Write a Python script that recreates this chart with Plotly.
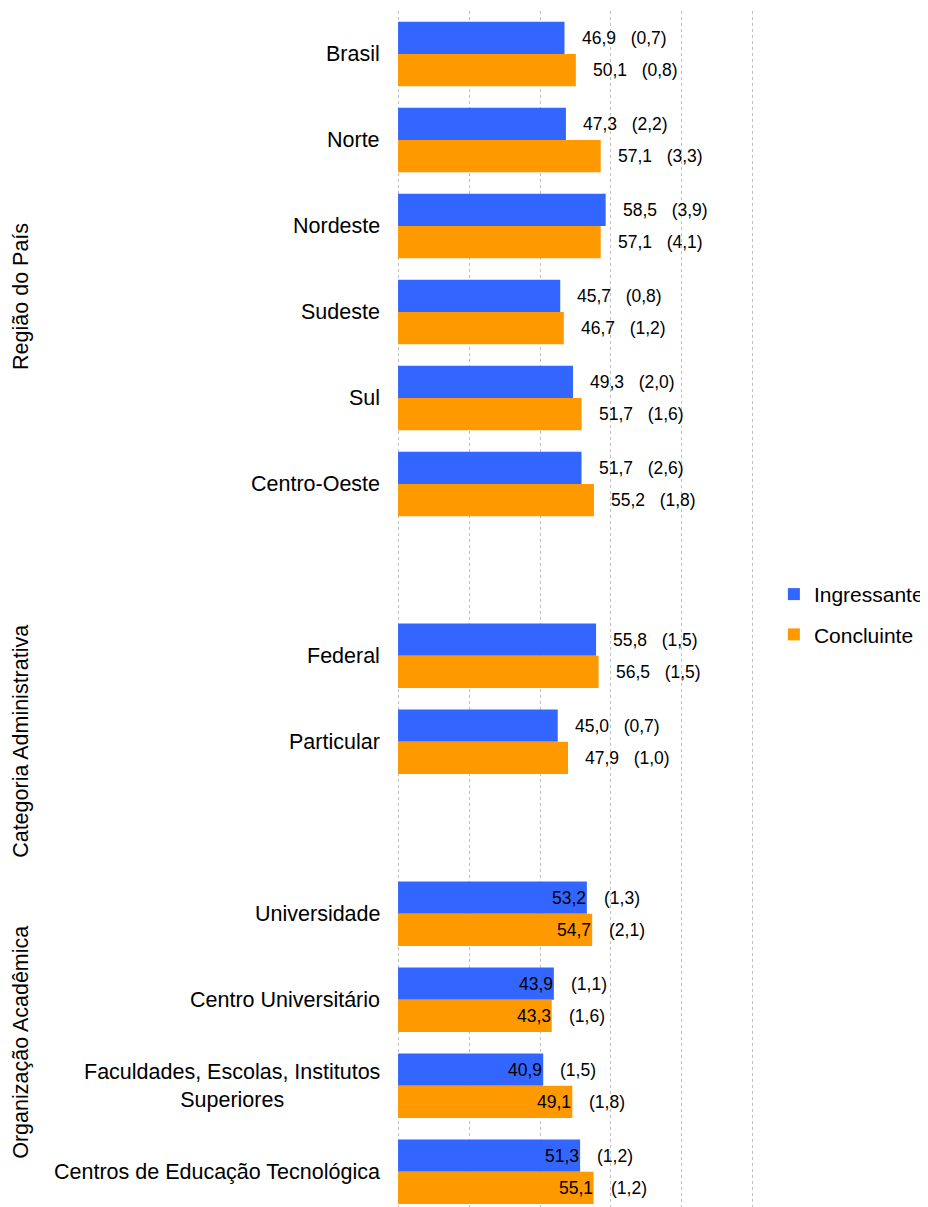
import plotly.graph_objects as go

# ---------------- data ----------------
group_titles = ["Região do País", "Categoria Administrativa", "Organização Acadêmica"]

regiao_cats = ["Brasil", "Norte", "Nordeste", "Sudeste", "Sul", "Centro-Oeste"]
regiao_ing = [46.9, 47.3, 58.5, 45.7, 49.3, 51.7]
regiao_ing_se = [0.7, 2.2, 3.9, 0.8, 2.0, 2.6]
regiao_con = [50.1, 57.1, 57.1, 46.7, 51.7, 55.2]
regiao_con_se = [0.8, 3.3, 4.1, 1.2, 1.6, 1.8]

categoria_cats = ["Federal", "Particular"]
categoria_ing = [55.8, 45.0]
categoria_ing_se = [1.5, 0.7]
categoria_con = [56.5, 47.9]
categoria_con_se = [1.5, 1.0]

org_cats = ["Universidade", "Centro Universitário",
            "Faculdades, Escolas, Institutos<br>Superiores",
            "Centros de Educação Tecnológica"]
org_ing = [53.2, 43.9, 40.9, 51.3]
org_ing_se = [1.3, 1.1, 1.5, 1.2]
org_con = [54.7, 43.3, 49.1, 55.1]
org_con_se = [2.1, 1.6, 1.8, 1.2]

series_names = ["Ingressante", "Concluinte"]
colors = ["#3366FF", "#FF9900"]

groups = [
    (regiao_cats, regiao_ing, regiao_ing_se, regiao_con, regiao_con_se, "outside"),
    (categoria_cats, categoria_ing, categoria_ing_se, categoria_con, categoria_con_se, "outside"),
    (org_cats, org_ing, org_ing_se, org_con, org_con_se, "split"),
]
# small vertical nudges (px) of the rotated group titles
title_yshift = [15, 0, 0]

def fmt(v):
    return f"{v:.1f}".replace(".", ",")

# ---------------- layout of slots ----------------
pos, cats, ing, ing_se, con, con_se, styles = [], [], [], [], [], [], []
group_centers = []
idx = 0
for gi, (c, a, ase, b, bse, sty) in enumerate(groups):
    start = idx
    for k in range(len(c)):
        pos.append(idx); cats.append(c[k])
        ing.append(a[k]); ing_se.append(ase[k])
        con.append(b[k]); con_se.append(bse[k])
        styles.append(sty)
        idx += 1
    end = idx - 1
    if gi < len(groups) - 1:
        end = idx  # include blank spacer slot in the group span
        idx += 1
    group_centers.append((start + end) / 2)

BARGAP = 0.25
off = (1 - BARGAP) / 4

fig = go.Figure()
fig.add_trace(go.Bar(y=pos, x=ing, orientation="h", name=series_names[0],
                     marker=dict(color=colors[0], line=dict(width=0)),
                     legendgroup="a"))
fig.add_trace(go.Bar(y=pos, x=con, orientation="h", name=series_names[1],
                     marker=dict(color=colors[1], line=dict(width=0)),
                     legendgroup="b"))

FONT = "Liberation Sans, Arial, sans-serif"
annotations = []
# category labels
for p, c in zip(pos, cats):
    annotations.append(dict(x=0, xref="paper", y=p, yref="y", text=c, showarrow=False,
                            xanchor="right", yanchor="middle", xshift=-15, align="center",
                            font=dict(family=FONT, size=21.5, color="black")))
# group titles
for t, gc, ys in zip(group_titles, group_centers, title_yshift):
    annotations.append(dict(x=0, xref="paper", y=gc, yref="y", text=t, showarrow=False,
                            textangle=-90, xanchor="center", yanchor="middle",
                            xshift=-376, yshift=ys,
                            font=dict(family=FONT, size=21.5, color="black")))
# data labels
NB = "\u00a0"
for p, vi, si, vc, sc, sty in zip(pos, ing, ing_se, con, con_se, styles):
    for v, s, dy in ((vi, si, -off), (vc, sc, off)):
        if sty == "outside":
            annotations.append(dict(x=v, y=p + dy, xref="x", yref="y",
                                    text=f"{fmt(v)}{NB*3}({fmt(s)})", showarrow=False,
                                    xanchor="left", yanchor="middle", xshift=15,
                                    font=dict(family=FONT, size=17.5, color="black")))
        else:
            annotations.append(dict(x=v, y=p + dy, xref="x", yref="y",
                                    text=fmt(v), showarrow=False,
                                    xanchor="right", yanchor="middle", xshift=1,
                                    font=dict(family=FONT, size=17.5, color="black")))
            annotations.append(dict(x=v, y=p + dy, xref="x", yref="y",
                                    text=f"({fmt(s)})", showarrow=False,
                                    xanchor="left", yanchor="middle", xshift=15,
                                    font=dict(family=FONT, size=17.5, color="black")))

fig.update_layout(
    width=920, height=1199,
    paper_bgcolor="white", plot_bgcolor="white",
    margin=dict(l=389, r=174, t=3, b=0, autoexpand=False),
    barmode="group", bargap=BARGAP, bargroupgap=0,
    font=dict(family=FONT, size=21, color="black"),
    xaxis=dict(range=[-0.3, 100.3], tickvals=[0, 20, 40, 60, 80, 100],
               showticklabels=False, showgrid=True, gridcolor="#BFBFBF",
               griddash="dot", gridwidth=1, zeroline=False, showline=False),
    yaxis=dict(range=[13.41, -0.5], showticklabels=False, showgrid=False,
               zeroline=False, showline=False),
    legend=dict(x=1.0557, y=0.5293, xanchor="left", yanchor="top",
                font=dict(family=FONT, size=21, color="black"),
                tracegroupgap=10, bgcolor="rgba(0,0,0,0)"),
    annotations=annotations,
)

fig.write_html("out.html")
